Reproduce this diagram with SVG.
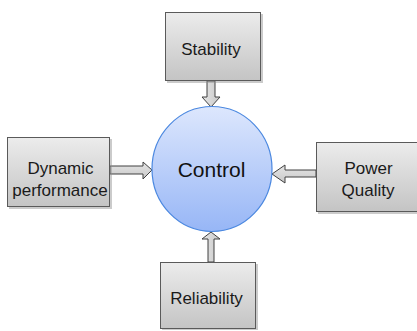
<svg xmlns="http://www.w3.org/2000/svg" width="417" height="331" viewBox="0 0 417 331">
  <defs>
    <linearGradient id="boxFill" x1="0" y1="0" x2="0" y2="1">
      <stop offset="0" stop-color="#ececec"/>
      <stop offset="1" stop-color="#c4c4c4"/>
    </linearGradient>
    <linearGradient id="arrowFillV" x1="0" y1="0" x2="1" y2="0">
      <stop offset="0" stop-color="#e6e6e6"/>
      <stop offset="1" stop-color="#c8c8c8"/>
    </linearGradient>
    <linearGradient id="arrowFillH" x1="0" y1="0" x2="0" y2="1">
      <stop offset="0" stop-color="#e6e6e6"/>
      <stop offset="1" stop-color="#c8c8c8"/>
    </linearGradient>
    <linearGradient id="circleFill" x1="0" y1="0" x2="0" y2="1">
      <stop offset="0" stop-color="#dde7fd"/>
      <stop offset="1" stop-color="#97b6f6"/>
    </linearGradient>
  </defs>
  <style>
    .box { fill: url(#boxFill); stroke: #5a5a5a; stroke-width: 1; }
    .shadow { fill: #8c8c8c; opacity: 0.45; }
    .label { font-family: "Liberation Sans", Arial, sans-serif; font-size: 17px; fill: #1a1a1a; text-anchor: middle; }
    .arrowV { fill: url(#arrowFillV); stroke: #404040; stroke-width: 1; }
    .arrowH { fill: url(#arrowFillH); stroke: #404040; stroke-width: 1; }
  </style>

  <!-- block arrows pointing at the centre -->
  <g id="connectors">
    <!-- from Stability (down) -->
    <path class="arrowV" d="M207,81 L215,81 L215,97 L220,97 L211,107 L202,97 L207,97 Z"/>
    <!-- from Reliability (up) -->
    <path class="arrowV" d="M208,262 L214,262 L214,239 L220,239 L211,232 L202,239 L208,239 Z"/>
    <!-- from Dynamic performance (right) -->
    <path class="arrowH" d="M110,166 L143,166 L143,162 L152,170 L143,179 L143,174 L110,174 Z"/>
    <!-- from Power Quality (left) -->
    <path class="arrowH" d="M316,170 L285,170 L285,165 L272,174 L285,183 L285,177 L316,177 Z"/>
  </g>

  <g id="control">
    <ellipse cx="212" cy="169" rx="60" ry="62.5" fill="url(#circleFill)" stroke="#4b88e0" stroke-width="1.2"/>
    <text x="211.5" y="177" font-family="Liberation Sans, Arial, sans-serif" font-size="21" fill="#111" text-anchor="middle">Control</text>
  </g>

  <g id="stability">
    <rect class="shadow" x="167" y="14" width="96" height="69"/>
    <rect class="box" x="165.5" y="12.5" width="95" height="68"/>
    <text class="label" x="211" y="55">Stability</text>
  </g>

  <g id="reliability">
    <rect class="shadow" x="162" y="264" width="96" height="66"/>
    <rect class="box" x="160.5" y="262.5" width="95" height="66"/>
    <text class="label" x="206.5" y="304">Reliability</text>
  </g>

  <g id="dynamic-performance">
    <rect class="shadow" x="9" y="139" width="103" height="70"/>
    <rect class="box" x="7.5" y="137.5" width="102" height="69"/>
    <text class="label" x="60.5" y="174">Dynamic</text>
    <text class="label" x="60" y="196">performance</text>
  </g>

  <g id="power-quality">
    <rect class="shadow" x="318" y="144" width="102" height="70"/>
    <rect class="box" x="316.5" y="142.5" width="102" height="69"/>
    <text class="label" x="368.5" y="174">Power</text>
    <text class="label" x="368" y="196">Quality</text>
  </g>
</svg>
